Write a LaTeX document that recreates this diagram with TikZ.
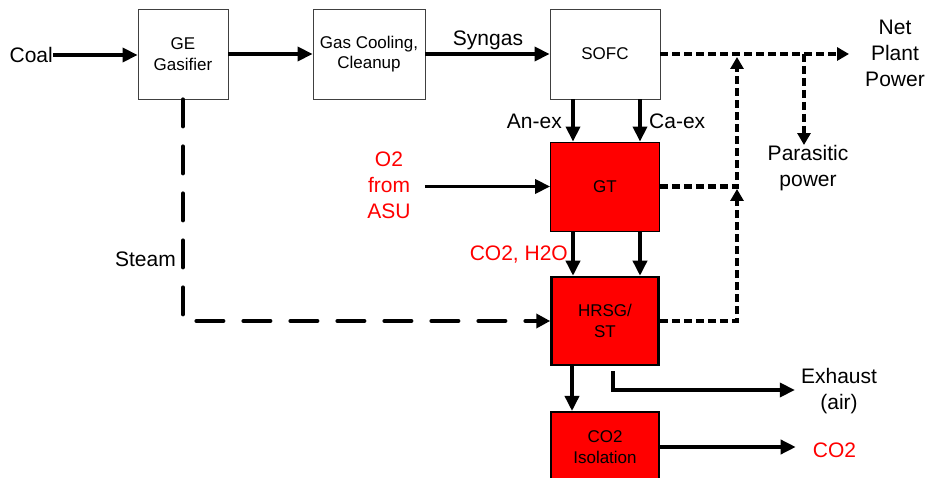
\documentclass[tikz,border=0pt]{standalone}
\usepackage{fontspec}
\setmainfont{Liberation Sans}
\usetikzlibrary{arrows.meta}
\definecolor{pred}{RGB}{255,0,0}
\begin{document}
\begin{tikzpicture}[x=1pt,y=-1pt,
  lbl/.style={font=\fontsize{21}{26}\selectfont, align=center, inner sep=0pt},
  boxtxt/.style={font=\fontsize{17}{20.5}\selectfont, align=center, inner sep=0pt},
  wbox/.style={boxtxt, draw=black!75, line width=0.8pt, fill=white, minimum height=90pt},
  rbox/.style={boxtxt, draw=black, fill=pred, minimum width=109pt},
  arr/.style={line width=3.5pt, -{Triangle[length=15pt,width=14pt]}},
  pow/.style={line width=4.5pt, dash pattern=on 8pt off 4pt, -{Triangle[length=12pt,width=13pt]}},
  stm/.style={line width=4pt, line cap=round, dash pattern=on 27pt off 20pt, -{Triangle[length=14pt,width=14pt]}}
]
\clip (0,0) rectangle (927,478);
\fill[white] (0,0) rectangle (927,478);

% process boxes
\node[wbox, minimum width=90pt] (gas) at (183,54) {GE\\Gasifier};
\node[wbox, minimum width=112pt] (cool) at (369,54) {Gas Cooling,\\Cleanup};
\node[wbox, minimum width=110pt] (sofc) at (605,54) {SOFC};
\node[rbox, line width=0.8pt, minimum height=89pt] (gt) at (605,186.5) {GT};
\node[rbox, line width=2.5pt, minimum width=107pt, minimum height=88pt] (hrsg) at (605,321) {HRSG/\\ST};
\node[rbox, line width=2pt, minimum width=108pt, minimum height=70pt] (iso) at (605,447) {CO2\\Isolation};

% labels
\node[lbl, anchor=east] (coal) at (53,55) {Coal};
\node[lbl] (syn) at (488,40) {Syngas};
\node[lbl] (np) at (895,53) {Net\\Plant\\Power};
\node[lbl] (para) at (808,168) {Parasitic\\power};
\node[lbl, text=pred] (o2) at (389,185) {O2\\from\\ASU};
\node[lbl, anchor=east] (anex) at (562,121) {An-ex};
\node[lbl, anchor=west] (caex) at (649,121) {Ca-ex};
\node[lbl, text=pred, anchor=east] (h2o) at (568,255) {CO2, H2O};
\node[lbl, anchor=east] (steam) at (176,259) {Steam};
\node[lbl] (exh) at (839,391) {Exhaust\\(air)};
\node[lbl, text=pred] (co2) at (834.5,450) {CO2};

% junctions
\coordinate (ja) at (737,54);
\coordinate (jb) at (804,54);
\coordinate (jg) at (737,186.5);

% solid flows
\draw[arr] (coal.east) -- (coal.east -| gas.west);
\draw[arr] (gas.east) -- (cool.west);
\draw[arr] (cool.east) -- (sofc.west);
\draw[arr] ([xshift=-32pt]sofc.south) -- ([xshift=-32pt]gt.north);
\draw[arr] ([xshift=35pt]sofc.south) -- ([xshift=35pt]gt.north);
\draw[arr] ([xshift=14pt]o2.east |- gt.west) -- (gt.west);
\draw[arr] ([xshift=-32pt]gt.south) -- ([xshift=-32pt]hrsg.north);
\draw[arr] ([xshift=35pt]gt.south) -- ([xshift=35pt]hrsg.north);
\draw[arr] ([xshift=-33pt]hrsg.south) -- ([xshift=-33pt]iso.north);
\draw[arr] ([xshift=8pt,yshift=-5pt]hrsg.south) |- ([xshift=-6pt,yshift=1pt]exh.west);
\draw[arr] (iso.east) -- ([xshift=-17pt]co2.west |- iso.east);

% steam
\draw[stm] (gas.south) |- (hrsg.west);

% power
\draw[pow] (sofc.east) -- ([xshift=-16pt]np.west |- sofc.east);
\draw[pow] (jb) -- (jb |- para.north);
\draw[pow] (gt.east) -- (jg) -- ([yshift=-3pt]ja);
\draw[pow] (hrsg.east) -| ([yshift=-2.5pt]jg);
\end{tikzpicture}
\end{document}
